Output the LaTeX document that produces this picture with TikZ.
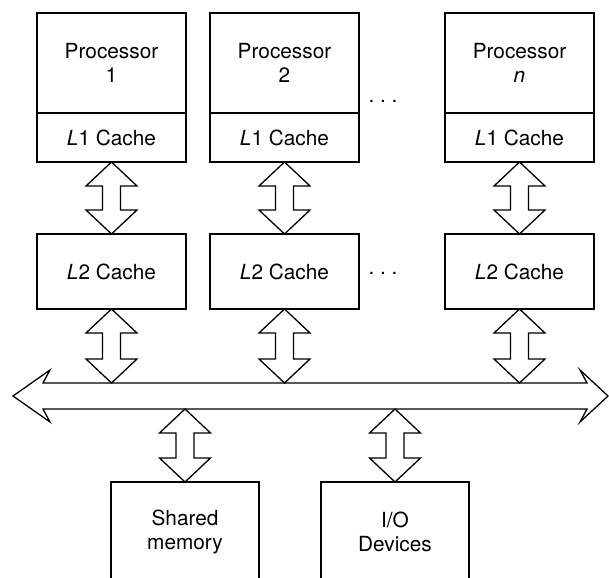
\documentclass[tikz,border=0pt]{standalone}
\usepackage{fontspec}
\setmainfont{TeX Gyre Heros}
\usetikzlibrary{positioning,calc}

% vertical double block arrow, from a top tip #1 down to a bottom tip #2
\newcommand{\fatarrow}[2]{%
  \draw[fat] (#1) -- ++(25.5,24) -- ++(-16.5,0) -- ($(#2)+(9,-24)$) -- ++(16.5,0)
    -- (#2) -- ++(-25.5,-24) -- ++(16.5,0) -- ($(#1)+(-9,24)$) -- ++(-16.5,0) -- cycle;}

\begin{document}
\begin{tikzpicture}[
  x=0.5pt, y=-0.5pt, node distance=12pt,
  every node/.style={font=\fontsize{10.4}{12}\selectfont},
  proc/.style={draw, line width=0.65pt, align=center, outer sep=0pt, inner sep=0pt,
               minimum width=74.5pt, minimum height=50pt},
  lone/.style={proc, minimum height=24.5pt},
  ltwo/.style={proc, minimum height=37.5pt},
  mem/.style={proc, minimum width=74pt, minimum height=50pt},
  fat/.style={draw, line width=0.65pt, fill=white, line join=miter}]
\useasboundingbox (0,0) rectangle (609,577);
\clip (0,0) rectangle (609,577);

% processors with their L1 caches
\node[proc, anchor=north west] (p1) at (37,13) {Processor\\1};
\node[proc, right=12pt of p1] (p2) {Processor\\2};
\node[proc, right=43pt of p2] (pn) {Processor\\\textit{n}};
\node[lone, below=0pt of p1] (c1) {\textit{L}1 Cache};
\node[lone, below=0pt of p2] (c2) {\textit{L}1 Cache};
\node[lone, below=0pt of pn] (cn) {\textit{L}1 Cache};

% L2 caches
\node[ltwo, below=36pt of c1] (d1) {\textit{L}2 Cache};
\node[ltwo, below=36pt of c2] (d2) {\textit{L}2 Cache};
\node[ltwo, below=36pt of cn] (dn) {\textit{L}2 Cache};

\node[anchor=base] (dotsp) at (383,103) {.~.~.};
\node[anchor=base] (dotsc) at (383,274) {.~.~.};

% shared bus
\node[minimum width=272pt, minimum height=13pt, inner sep=0pt, outer sep=0pt] (bus) at (315,396) {};
\draw[fat] (bus.north west) -- (bus.north east) -- ++(-7,-13) -- ($(bus.east)+(21,0)$)
  -- ($(bus.south east)+(-7,13)$) -- (bus.south east) -- (bus.south west) -- ++(7,13)
  -- ($(bus.west)+(-30,0)$) -- ($(bus.north west)+(7,-13)$) -- cycle;

% memory and devices
\node[mem, anchor=north] (mem) at (185,482) {Shared\\memory};
\node[mem, anchor=north] (io) at (395,482) {I/O\\Devices};

\coordinate (b1) at (bus.north -| d1.south);
\coordinate (b2) at (bus.north -| d2.south);
\coordinate (bn) at (bus.north -| dn.south);
\coordinate (bm) at (bus.south -| mem.north);
\coordinate (bi) at (bus.south -| io.north);

\fatarrow{c1.south}{d1.north}
\fatarrow{c2.south}{d2.north}
\fatarrow{cn.south}{dn.north}
\fatarrow{d1.south}{b1}
\fatarrow{d2.south}{b2}
\fatarrow{dn.south}{bn}
\fatarrow{bm}{mem.north}
\fatarrow{bi}{io.north}
\end{tikzpicture}
\end{document}
